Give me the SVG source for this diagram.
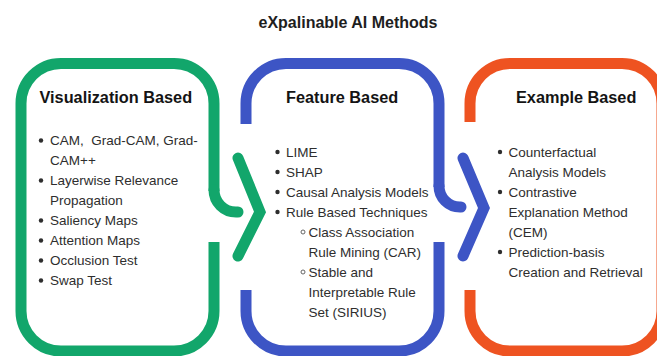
<svg xmlns="http://www.w3.org/2000/svg" width="657" height="356" viewBox="0 0 657 356">
<style>
  .title{font-family:"Liberation Sans",Arial,sans-serif;font-weight:bold;font-size:16px;fill:#1e1e1e}
  .head{font-family:"Liberation Sans",Arial,sans-serif;font-weight:bold;font-size:16.3px;fill:#141414}
  .body{font-family:"Liberation Sans",Arial,sans-serif;font-size:13.5px;fill:#2e2e2e;white-space:pre}
  .box{fill:none;stroke-width:11;stroke-linecap:butt;stroke-linejoin:round}
  .hook{fill:none;stroke-width:11;stroke-linecap:round}
  .chev{fill:none;stroke-width:11;stroke-linecap:round;stroke-linejoin:miter}
  .g{stroke:#12a66b}
  .b{stroke:#3d55c5}
  .o{stroke:#ee5321}
  .dot{fill:#2e2e2e}
  .ring{fill:none;stroke:#555;stroke-width:0.9}
</style>
<rect width="657" height="356" fill="#ffffff"/>
<text class="title" x="348" y="28" text-anchor="middle">eXpalinable AI Methods</text>

<g id="visualization-based">
  <path class="box g" d="M214,242 V311 A40,40 0 0 1 174,351 H61 A40,40 0 0 1 21,311 V103.5 A40,40 0 0 1 61,63.5 H174 A40,40 0 0 1 214,103.5 V191"/>
  <path class="hook g" d="M214,190 A22,22 0 0 0 236,212 H238"/>
  <text class="head" x="39.5" y="103">Visualization Based</text>
  <g class="dot">
    <circle cx="41" cy="140.5" r="2.2"/>
    <circle cx="41" cy="180.5" r="2.2"/>
    <circle cx="41" cy="220.5" r="2.2"/>
    <circle cx="41" cy="240.5" r="2.2"/>
    <circle cx="41" cy="260.5" r="2.2"/>
    <circle cx="41" cy="280.5" r="2.2"/>
  </g>
  <text class="body" x="50" y="145">CAM,  Grad-CAM, Grad-</text>
  <text class="body" x="50" y="165">CAM++</text>
  <text class="body" x="50" y="185">Layerwise Relevance</text>
  <text class="body" x="50" y="205">Propagation</text>
  <text class="body" x="50" y="225">Saliency Maps</text>
  <text class="body" x="50" y="245">Attention Maps</text>
  <text class="body" x="50" y="265">Occlusion Test</text>
  <text class="body" x="50" y="285">Swap Test</text>
</g>

<g id="feature-based">
  <path class="box b" d="M246,124 V103.5 A40,40 0 0 1 286,63.5 H399 A40,40 0 0 1 439,103.5 V187"/>
  <path class="hook b" d="M439,186 A21,21 0 0 0 460,207 H461"/>
  <path class="box b" d="M439,242 V311 A40,40 0 0 1 399,351 H286 A40,40 0 0 1 246,311 V290"/>
  <text class="head" x="286" y="103">Feature Based</text>
  <g class="dot">
    <circle cx="277.5" cy="152" r="2.2"/>
    <circle cx="277.5" cy="172" r="2.2"/>
    <circle cx="277.5" cy="192" r="2.2"/>
    <circle cx="277.5" cy="212" r="2.2"/>
  </g>
  <circle class="ring" cx="303" cy="232" r="2"/>
  <circle class="ring" cx="303" cy="272" r="2"/>
  <text class="body" x="286" y="156.5">LIME</text>
  <text class="body" x="286" y="176.5">SHAP</text>
  <text class="body" x="286" y="196.5">Causal Analysis Models</text>
  <text class="body" x="286" y="216.5">Rule Based Techniques</text>
  <text class="body" x="308.5" y="236.5">Class Association</text>
  <text class="body" x="308.5" y="256.5">Rule Mining (CAR)</text>
  <text class="body" x="308.5" y="276.5">Stable and</text>
  <text class="body" x="308.5" y="296.5">Interpretable Rule</text>
  <text class="body" x="308.5" y="316.5">Set (SIRIUS)</text>
</g>

<g id="example-based">
  <path class="box o" d="M470,290 V311 A40,40 0 0 0 510,351 H622 A40,40 0 0 0 662,311 V103.5 A40,40 0 0 0 622,63.5 H510 A40,40 0 0 0 470,103.5 V122"/>
  <text class="head" x="516" y="103">Example Based</text>
  <g class="dot">
    <circle cx="500" cy="152" r="2.2"/>
    <circle cx="500" cy="192" r="2.2"/>
    <circle cx="500" cy="252" r="2.2"/>
  </g>
  <text class="body" x="508.5" y="156.5">Counterfactual</text>
  <text class="body" x="508.5" y="176.5">Analysis Models</text>
  <text class="body" x="508.5" y="196.5">Contrastive</text>
  <text class="body" x="508.5" y="216.5">Explanation Method</text>
  <text class="body" x="508.5" y="236.5">(CEM)</text>
  <text class="body" x="508.5" y="256.5">Prediction-basis</text>
  <text class="body" x="508.5" y="276.5">Creation and Retrieval</text>
</g>

<g id="connectors">
  <polyline class="chev g" points="238,158 260,212 238,256"/>
  <polyline class="chev b" points="463,158 484,208 463,256"/>
</g>
</svg>
